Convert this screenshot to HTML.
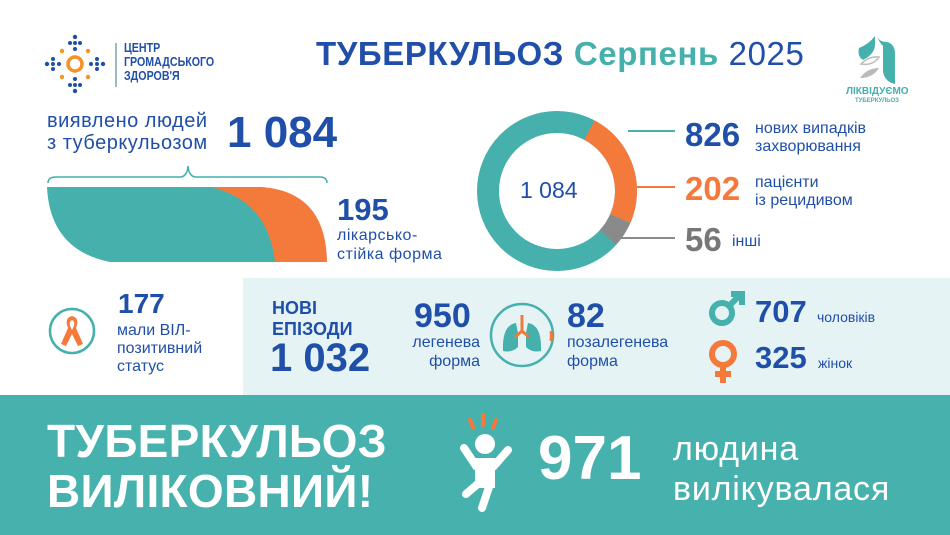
<!DOCTYPE html>
<html><head><meta charset="utf-8"><style>
body{margin:0;width:950px;height:535px;position:relative;background:#fff;font-family:"Liberation Sans",sans-serif;overflow:hidden}
.a{position:absolute;white-space:nowrap}
.b{color:#1f4fa8}
.bold{font-weight:bold}
</style></head><body>
<svg class="a" style="left:44px;top:34px" width="62" height="60" viewBox="0 0 62 60">
<g fill="#1f4fa8">
<circle cx="31" cy="3" r="2.2"/><circle cx="26" cy="9" r="2"/><circle cx="31" cy="9" r="2"/><circle cx="36" cy="9" r="2"/><circle cx="31" cy="15" r="2"/>
<circle cx="31" cy="57" r="2.2"/><circle cx="26" cy="51" r="2"/><circle cx="31" cy="51" r="2"/><circle cx="36" cy="51" r="2"/><circle cx="31" cy="45" r="2"/>
<circle cx="3" cy="30" r="2.2"/><circle cx="9" cy="25" r="2"/><circle cx="9" cy="30" r="2"/><circle cx="9" cy="35" r="2"/><circle cx="15" cy="30" r="2"/>
<circle cx="59" cy="30" r="2.2"/><circle cx="53" cy="25" r="2"/><circle cx="53" cy="30" r="2"/><circle cx="53" cy="35" r="2"/><circle cx="47" cy="30" r="2"/>
</g>
<g fill="#f39325"><circle cx="18" cy="17" r="2.2"/><circle cx="44" cy="17" r="2.2"/><circle cx="18" cy="43" r="2.2"/><circle cx="44" cy="43" r="2.2"/></g>
<circle cx="31" cy="30" r="7" fill="none" stroke="#f39325" stroke-width="3.5"/>
</svg>
<div class="a" style="left:115px;top:43px;width:2px;height:44px;background:#9bb"></div>
<div class="a b bold" style="left:124px;top:41px;font-size:13px;line-height:14px;transform:scaleX(.82);transform-origin:left">ЦЕНТР<br>ГРОМАДСЬКОГО<br>ЗДОРОВ'Я</div>
<div class="a" style="left:316px;top:35px;font-size:33px;letter-spacing:0.6px;font-weight:bold;color:#1f4fa8">ТУБЕРКУЛЬОЗ <span style="color:#45b0ac">Серпень</span> <span style="font-weight:normal">2025</span></div>
<svg class="a" style="left:855px;top:24px" width="45" height="60" viewBox="0 0 45 60">
<path d="M20,0 L22,12 Q24,18 32,18 Q40,20 40,30 L40,60 Q30,58 28,48 L28,22 Q24,18 22,12 Z" fill="#45b0ac"/>
<path d="M20,12 Q14,20 4,24 Q2,32 8,36 Q20,30 20,20 Z" fill="#45b0ac"/>
<path d="M6,40 Q14,32 24,33 Q18,42 6,40 Z" fill="none" stroke="#bbb" stroke-width="1.5"/>
<path d="M5,54 Q12,44 24,44 Q18,54 5,54 Z" fill="#bbb"/>
</svg>
<div class="a bold" style="left:846px;top:86px;font-size:10px;color:#45b0ac">ЛІКВІДУЄМО</div>
<div class="a bold" style="left:855px;top:98px;font-size:6px;color:#45b0ac">ТУБЕРКУЛЬОЗ</div>

<div class="a b" style="left:47px;top:110px;font-size:20px;letter-spacing:0.5px;line-height:22px">виявлено людей<br>з туберкульозом</div>
<div class="a b bold" style="left:227px;top:108px;font-size:44px">1 084</div>
<svg class="a" style="left:0;top:0" width="950" height="280">
<path d="M48,183 Q48,177 56,177 L180,177 Q187,177 188,166 Q189,177 196,177 L320,177 Q327,177 327,183" fill="none" stroke="#45b0ac" stroke-width="1.5"/>
<path d="M205,187 L262,187 Q326,192 327,262 L272,262 Z" fill="#f47a3c"/>
<path d="M47,187 L210,187 Q268,200 275,262 L110,262 Q50,250 47,187 Z" fill="#45b0ac"/>
<g transform="translate(557,191)">
<circle r="69" fill="none" stroke="#45b0ac" stroke-width="22"/>
<circle r="69" fill="none" stroke="#f47a3c" stroke-width="22" stroke-dasharray="103 400" transform="rotate(-62)"/>
<circle r="69" fill="none" stroke="#8a8a8a" stroke-width="22" stroke-dasharray="22 420" transform="rotate(24)"/>
</g>
<line x1="628" y1="131" x2="675" y2="131" stroke="#45b0ac" stroke-width="2"/>
<line x1="637" y1="187" x2="675" y2="187" stroke="#f47a3c" stroke-width="2"/>
<line x1="620" y1="238" x2="675" y2="238" stroke="#8a8a8a" stroke-width="2"/>
</svg>
<div class="a b bold" style="left:337px;top:192px;font-size:31px">195</div>
<div class="a b" style="left:337px;top:226px;font-size:16px;letter-spacing:0.5px;line-height:19px">лікарсько-<br>стійка форма</div>
<div class="a b" style="left:520px;top:177px;font-size:23px">1 084</div>
<div class="a b bold" style="left:685px;top:116px;font-size:33px">826</div>
<div class="a b" style="left:755px;top:120px;font-size:16px;line-height:18px">нових випадків<br>захворювання</div>
<div class="a bold" style="left:685px;top:170px;font-size:33px;color:#f47a3c">202</div>
<div class="a b" style="left:755px;top:174px;font-size:16px;line-height:18px">пацієнти<br>із рецидивом</div>
<div class="a bold" style="left:685px;top:221px;font-size:33px;color:#777">56</div>
<div class="a b" style="left:732px;top:233px;font-size:16px">інші</div>

<div class="a" style="left:243px;top:278px;width:707px;height:117px;background:#e5f3f4"></div>
<svg class="a" style="left:48px;top:306px" width="48" height="50" viewBox="0 0 48 50">
<circle cx="24" cy="25" r="22" fill="none" stroke="#45b0ac" stroke-width="2.5"/>
<path d="M24,10 Q16,12 20,22 L13,38 L18,40 L24,28 L30,40 L35,38 L28,22 Q32,12 24,10 Z M24,14 Q28,16 25,22 L24,24 L23,22 Q20,16 24,14 Z" fill="#f47a3c"/>
</svg>
<div class="a b bold" style="left:118px;top:288px;font-size:28px">177</div>
<div class="a b" style="left:117px;top:322px;font-size:16px;line-height:18px">мали ВІЛ-<br>позитивний<br>статус</div>
<div class="a b bold" style="left:272px;top:298px;font-size:18px;line-height:21px">НОВІ<br>ЕПІЗОДИ</div>
<div class="a b bold" style="left:270px;top:336px;font-size:40px">1 032</div>
<div class="a b bold" style="left:414px;top:297px;font-size:34px">950</div>
<div class="a b" style="left:400px;top:333px;font-size:16px;line-height:19px;text-align:right;width:80px">легенева<br>форма</div>
<svg class="a" style="left:488px;top:301px" width="68" height="68" viewBox="0 0 68 68">
<circle cx="34" cy="34" r="31" fill="none" stroke="#45b0ac" stroke-width="2.5"/>
<path d="M63,30 A31,31 0 0 1 63,40" fill="none" stroke="#f47a3c" stroke-width="3"/>
<path d="M28,22 Q14,24 15,50 Q24,52 30,46 L30,32 Z M40,22 Q54,24 53,50 Q44,52 38,46 L38,32 Z" fill="#45b0ac"/>
<path d="M34,14 L34,30 L27,36 M34,30 L41,36" fill="none" stroke="#f47a3c" stroke-width="3"/>
</svg>
<div class="a b bold" style="left:567px;top:297px;font-size:34px">82</div>
<div class="a b" style="left:567px;top:333px;font-size:16px;line-height:19px">позалегенева<br>форма</div>
<svg class="a" style="left:705px;top:290px" width="45" height="95" viewBox="0 0 45 95">
<circle cx="17" cy="23" r="10" fill="none" stroke="#45b0ac" stroke-width="6"/>
<path d="M24,16 L36,4 M26,4 L37,4 L37,15" fill="none" stroke="#45b0ac" stroke-width="6"/>
<circle cx="18" cy="64" r="11" fill="none" stroke="#f47a3c" stroke-width="6"/>
<path d="M18,75 L18,93 M10,84 L26,84" fill="none" stroke="#f47a3c" stroke-width="6"/>
</svg>
<div class="a b bold" style="left:755px;top:294px;font-size:31px">707</div>
<div class="a b" style="left:817px;top:309px;font-size:14px">чоловіків</div>
<div class="a b bold" style="left:755px;top:340px;font-size:31px">325</div>
<div class="a b" style="left:818px;top:355px;font-size:14px">жінок</div>

<div class="a" style="left:0;top:395px;width:950px;height:140px;background:#47b1ad"></div>
<div class="a bold" style="left:47px;top:416px;font-size:46px;line-height:50px;letter-spacing:0.3px;color:#fff">ТУБЕРКУЛЬОЗ<br>ВИЛІКОВНИЙ!</div>
<svg class="a" style="left:458px;top:412px" width="62" height="100" viewBox="0 0 62 100">
<g stroke="#f47a3c" stroke-width="4" stroke-linecap="round"><line x1="12" y1="8" x2="15" y2="16"/><line x1="25" y1="3" x2="25" y2="13"/><line x1="38" y1="8" x2="35" y2="16"/></g>
<circle cx="27" cy="32" r="10" fill="#fff"/>
<g stroke="#fff" stroke-width="8" stroke-linecap="round" fill="none"><path d="M6,36 L18,54 L36,54 L50,38"/><path d="M22,52 L22,70 L8,82"/><path d="M32,52 L32,72 L24,96"/></g>
<rect x="17" y="46" width="20" height="30" fill="#fff"/>
</svg>
<div class="a bold" style="left:538px;top:423px;font-size:62px;color:#fff">971</div>
<div class="a" style="left:673px;top:429px;font-size:34px;letter-spacing:0.8px;line-height:40px;color:#fff">людина<br>вилікувалася</div>
</body></html>
